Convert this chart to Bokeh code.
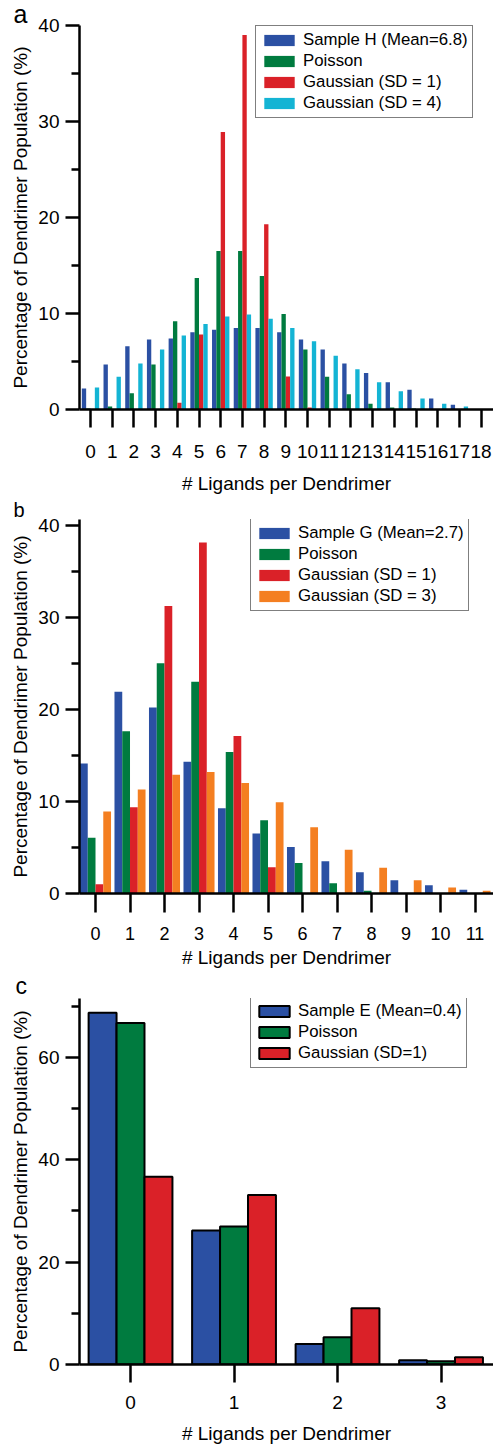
from bokeh.plotting import figure
from bokeh.layouts import column
from bokeh.models import FixedTicker, Range1d, Legend, LegendItem, ColumnDataSource
from bokeh.transform import dodge
from bokeh.embed import file_html
from bokeh.resources import INLINE

FONT = "Liberation Sans"
BLUE = "#2b50a3"
GREEN = "#007b3f"
RED = "#da2128"
CYAN = "#14b4d4"
ORANGE = "#f47f21"

# ---------------- data ----------------
# panel a
ligands_a = list(range(19))
sample_h = [2.2, 4.7, 6.6, 7.3, 7.4, 8.05, 8.3, 8.5, 8.5, 8.05, 7.3, 6.25, 4.8, 3.8, 2.85, 2.05, 1.15, 0.5, 0.0]
poisson_a = [0.1, 0.3, 1.7, 4.7, 9.2, 13.7, 16.5, 16.5, 13.9, 9.95, 6.25, 3.4, 1.6, 0.6, 0.2, 0.1, 0.0, 0.0, 0.0]
gauss1_a = [0.0, 0.0, 0.0, 0.0, 0.7, 7.8, 28.9, 39.0, 19.3, 3.45, 0.2, 0.0, 0.0, 0.0, 0.0, 0.0, 0.0, 0.0, 0.0]
gauss4_a = [2.3, 3.4, 4.8, 6.25, 7.7, 8.9, 9.7, 9.9, 9.45, 8.5, 7.1, 5.6, 4.2, 2.85, 1.9, 1.15, 0.6, 0.3, 0.0]
legend_a = ["Sample H (Mean=6.8)", "Poisson", "Gaussian (SD = 1)", "Gaussian (SD = 4)"]

# panel b
ligands_b = list(range(12))
sample_g = [14.1, 21.9, 20.2, 14.3, 9.25, 6.5, 5.05, 3.5, 2.3, 1.45, 0.9, 0.4]
poisson_b = [6.05, 17.6, 25.0, 23.0, 15.35, 7.95, 3.3, 1.1, 0.3, 0.0, 0.0, 0.0]
gauss1_b = [1.0, 9.35, 31.2, 38.1, 17.1, 2.85, 0.0, 0.0, 0.0, 0.0, 0.0, 0.0]
gauss3_b = [8.9, 11.3, 12.9, 13.2, 12.0, 9.9, 7.2, 4.75, 2.8, 1.45, 0.65, 0.3]
legend_b = ["Sample G (Mean=2.7)", "Poisson", "Gaussian (SD = 1)", "Gaussian (SD = 3)"]

# panel c
ligands_c = [0, 1, 2, 3]
sample_e = [68.7, 26.2, 4.0, 0.85]
poisson_c = [66.7, 26.95, 5.3, 0.65]
gauss1_c = [36.7, 33.1, 11.0, 1.4]
legend_c = ["Sample E (Mean=0.4)", "Poisson", "Gaussian (SD=1)"]

x_title = "# Ligands per Dendrimer"
y_title = "Percentage of Dendrimer Population (%)"


def make_fig(letter, letter_size, letter_offset, letter_standoff, height, left, top, bottom, xr, yr):
    p = figure(width=493, height=height, x_range=Range1d(*xr), y_range=Range1d(*yr),
               output_backend="svg", toolbar_location=None, title=letter,
               min_border_left=left, min_border_right=0,
               min_border_top=top, min_border_bottom=bottom)
    p.title.text_font = FONT
    p.title.text_font_size = letter_size
    p.title.text_font_style = "normal"
    p.title.text_color = "black"
    p.title.align = "left"
    p.title.offset = letter_offset
    p.title.standoff = letter_standoff
    p.outline_line_color = None
    p.xgrid.grid_line_color = None
    p.ygrid.grid_line_color = None
    p.background_fill_color = "white"
    p.border_fill_color = "white"
    return p


def style_axes(p, xticks, ymajor, yminor, x_tick_out, x_font, x_lab_stand, x_title_stand,
               y_lab_stand=6, y_title_stand=4):
    xa = p.xaxis[0]
    xa.ticker = FixedTicker(ticks=xticks, minor_ticks=[])
    xa.axis_label = x_title
    xa.axis_label_text_font = FONT
    xa.axis_label_text_font_size = "19px"
    xa.axis_label_text_font_style = "normal"
    xa.axis_label_text_color = "black"
    xa.axis_label_standoff = x_title_stand
    xa.major_label_text_font = FONT
    xa.major_label_text_font_size = x_font
    xa.major_label_text_color = "black"
    xa.major_label_standoff = x_lab_stand
    xa.axis_line_width = 2.5
    xa.axis_line_color = "black"
    xa.major_tick_line_width = 2.5
    xa.major_tick_line_color = "black"
    xa.major_tick_in = 0
    xa.major_tick_out = x_tick_out
    xa.minor_tick_line_color = None

    ya = p.yaxis[0]
    ya.ticker = FixedTicker(ticks=ymajor, minor_ticks=yminor)
    ya.axis_label = y_title
    ya.axis_label_text_font = FONT
    ya.axis_label_text_font_size = "19px"
    ya.axis_label_text_font_style = "normal"
    ya.axis_label_text_color = "black"
    ya.axis_label_standoff = y_title_stand
    ya.major_label_text_font = FONT
    ya.major_label_text_font_size = "19px"
    ya.major_label_text_color = "black"
    ya.major_label_standoff = y_lab_stand
    ya.axis_line_width = 2.5
    ya.axis_line_color = "black"
    ya.major_tick_line_width = 2.5
    ya.major_tick_line_color = "black"
    ya.major_tick_in = 0
    ya.major_tick_out = 14
    ya.minor_tick_line_width = 2.5
    ya.minor_tick_line_color = "black"
    ya.minor_tick_in = 0
    ya.minor_tick_out = 8


def add_bars(p, xs, series, colors, offsets, width, names, outline):
    data = {"x": xs}
    for i, s in enumerate(series):
        data["s%d" % i] = s
    src = ColumnDataSource(data)
    items = []
    for i, (col, off, name) in enumerate(zip(colors, offsets, names)):
        if outline:
            r = p.vbar(x=dodge("x", off, range=p.x_range), top="s%d" % i, width=width,
                       bottom=0, source=src, fill_color=col, line_color="black", line_width=2)
        else:
            r = p.vbar(x=dodge("x", off, range=p.x_range), top="s%d" % i, width=width,
                       bottom=0, source=src, fill_color=col, line_color=None)
        items.append(LegendItem(label=name, renderers=[r]))
    return items


def add_legend(p, items, loc):
    lg = Legend(items=items, location=loc, orientation="vertical")
    lg.label_text_font = FONT
    lg.label_text_font_size = "16.8px"
    lg.label_text_color = "black"
    lg.glyph_width = 38
    lg.glyph_height = 14
    lg.label_height = 20
    lg.label_standoff = 5
    lg.spacing = 1
    lg.padding = 4
    lg.margin = 0
    lg.border_line_color = "black"
    lg.border_line_width = 1.5
    lg.background_fill_color = "white"
    lg.background_fill_alpha = 1
    p.add_layout(lg)


# ---------------- panel a ----------------
pa = make_fig("a", "25px", -66, -5, 497, 79, 25, 88, (-0.507, 18.571), (0, 40))
items_a = add_bars(pa, ligands_a, [sample_h, poisson_a, gauss1_a, gauss4_a],
                   [BLUE, GREEN, RED, CYAN], [-0.3, -0.1, 0.1, 0.3], 0.2, legend_a, False)
style_axes(pa, ligands_a, [0, 10, 20, 30, 40], [5, 15, 25, 35], 18, "19px", 17, 12)
add_legend(pa, items_a, (176, 291))

# ---------------- panel b ----------------
pb = make_fig("b", "20px", -66, -2, 474, 79, 21, 78, (-0.464, 11.536), (0, 40.6))
items_b = add_bars(pb, ligands_b, [sample_g, poisson_b, gauss1_b, gauss3_b],
                   [BLUE, GREEN, RED, ORANGE], [-0.3375, -0.1125, 0.1125, 0.3375], 0.225, legend_b, False)
style_axes(pb, ligands_b, [0, 10, 20, 30, 40], [5, 15, 25, 35], 19, "18px", 14, 4)
add_legend(pb, items_b, (171, 282))

# ---------------- panel c ----------------
pc = make_fig("c", "23px", -64, -1, 476, 77, 25, 83, (-0.493, 3.507), (0, 71.5))
items_c = add_bars(pc, ligands_c, [sample_e, poisson_c, gauss1_c],
                   [BLUE, GREEN, RED], [-0.27, 0.0, 0.27], 0.27, legend_c, True)
style_axes(pc, ligands_c, [0, 20, 40, 60], [10, 30, 50, 70], 18, "19px", 13, 11)
add_legend(pc, items_c, (171, 296))

layout = column(pa, pb, pc, spacing=0)
open("out.html", "w").write(file_html(layout, INLINE))
